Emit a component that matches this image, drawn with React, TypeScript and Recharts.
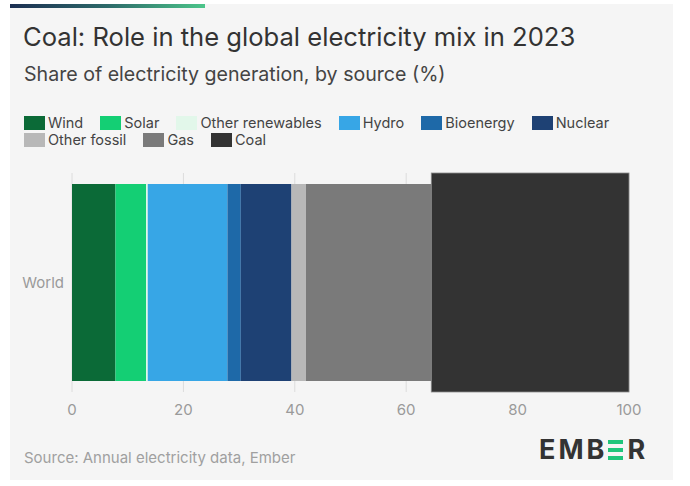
import React from 'react';
import { BarChart, Bar, XAxis, YAxis, CartesianGrid } from 'recharts';

// 2023 global generation shares (%)
const sources = ['Wind', 'Solar', 'Other renewables', 'Hydro', 'Bioenergy', 'Nuclear', 'Other fossil', 'Gas', 'Coal'];
const shares = [7.8, 5.5, 0.3, 14.3, 2.4, 9.1, 2.6, 22.5, 35.5];
const regions = ['World'];
const xTicks = [0, 20, 40, 60, 80, 100];

const COLORS: Record<string, string> = {
  Wind: '#0b6a37',
  Solar: '#14cf74',
  'Other renewables': '#e2f7ea',
  Hydro: '#37a6e6',
  Bioenergy: '#1e69a8',
  Nuclear: '#1e4174',
  'Other fossil': '#b8b8b8',
  Gas: '#7a7a7a',
  Coal: '#333333',
};

const legendRows = [sources.slice(0, 6), sources.slice(6)];

const FONT = 'Inter, "Noto Sans", sans-serif';

// coal gets pulled out to the full band height
const CoalShape = (props: any) => {
  const { x, y, width, height, fill } = props;
  return <rect x={x} y={y - 11} width={width} height={height + 22} fill={fill} stroke="#8c8c8c" strokeWidth={0.8} />;
};

function EmberLogo() {
  const bar = { width: 15, height: 4, background: '#1fc67b' };
  return (
    <div
      style={{
        position: 'absolute',
        left: 539,
        top: 436,
        display: 'flex',
        alignItems: 'center',
        fontFamily: FONT,
        fontWeight: 700,
        fontSize: 27,
        letterSpacing: 3,
        color: '#333',
        lineHeight: '28px',
      }}
    >
      <span>EMB</span>
      <span style={{ display: 'inline-flex', flexDirection: 'column', justifyContent: 'space-between', height: 20, margin: '0 4px 0 1px' }}>
        <span style={bar} />
        <span style={bar} />
        <span style={bar} />
      </span>
      <span>R</span>
    </div>
  );
}

export default function App() {
  const row: Record<string, string | number> = { name: regions[0] };
  sources.forEach((s, i) => {
    row[s] = shares[i];
  });
  const data = [row];

  return (
    <div style={{ position: 'absolute', left: 0, top: 0, width: 690, height: 486, background: '#fff', fontFamily: FONT }}>
      <div style={{ position: 'absolute', left: 10, top: 4, width: 663, height: 476, background: '#f5f5f5' }} />
      <div
        style={{
          position: 'absolute',
          left: 10,
          top: 4,
          width: 195,
          height: 4,
          background: 'linear-gradient(90deg, #1c2f52, #2d6a6a 50%, #4cc58a)',
        }}
      />
      <div style={{ position: 'absolute', left: 23, top: 21, fontSize: 25.6, color: '#333', whiteSpace: 'nowrap' }}>
        Coal: Role in the global electricity mix in 2023
      </div>
      <div style={{ position: 'absolute', left: 24, top: 62, fontSize: 19.6, color: '#444', whiteSpace: 'nowrap' }}>
        Share of electricity generation, by source (%)
      </div>

      <div style={{ position: 'absolute', left: 24, top: 114 }}>
        {legendRows.map((items, r) => (
          <div key={r} style={{ display: 'flex', height: 17, alignItems: 'center' }}>
            {items.map((s) => (
              <div key={s} style={{ display: 'flex', alignItems: 'center', marginRight: 17 }}>
                <span style={{ width: 21, height: 14, background: COLORS[s], marginRight: 3 }} />
                <span style={{ fontSize: 14.5, color: '#444', whiteSpace: 'nowrap', lineHeight: '17px' }}>{s}</span>
              </div>
            ))}
          </div>
        ))}
      </div>

      <div style={{ position: 'absolute', left: 0, top: 160 }}>
        <BarChart
          width={690}
          height={270}
          data={data}
          layout="vertical"
          margin={{ top: 13, right: 61, bottom: 8, left: 12 }}
        >
          <CartesianGrid horizontal={false} stroke="#dcdcdc" />
          <XAxis
            type="number"
            domain={[0, 100]}
            ticks={xTicks}
            axisLine={false}
            tickLine={false}
            tickMargin={6}
            height={30}
            tick={{ fill: '#9a9a9a', fontSize: 15 }}
          />
          <YAxis
            type="category"
            dataKey="name"
            width={60}
            axisLine={false}
            tickLine={false}
            tick={{ fill: '#9a9a9a', fontSize: 15 }}
          />
          {sources.map((s) => (
            <Bar
              key={s}
              dataKey={s}
              stackId="mix"
              fill={COLORS[s]}
              barSize={197}
              isAnimationActive={false}
              shape={s === 'Coal' ? CoalShape : undefined}
            />
          ))}
        </BarChart>
      </div>

      <div style={{ position: 'absolute', left: 24, top: 448, fontSize: 15, color: '#a0a0a0', whiteSpace: 'nowrap' }}>
        Source: Annual electricity data, Ember
      </div>
      <EmberLogo />
    </div>
  );
}
